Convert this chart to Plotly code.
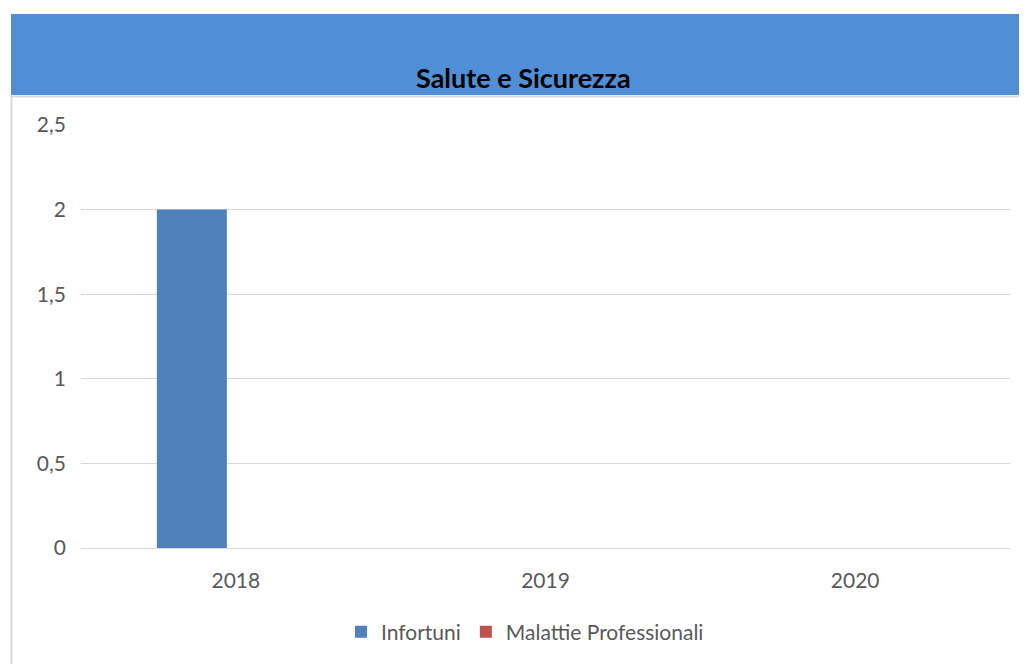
import plotly.graph_objects as go

years      = ["2018", "2019", "2020"]
infortuni  = [2, 0, 0]
malattie   = [0, 0, 0]
y_ticks    = [0, 0.5, 1, 1.5, 2, 2.5]
y_labels   = ["0", "0,5", "1", "1,5", "2", "2,5"]

FONT = "Lato"
OFF = 8                                  # page body margin
W, H = 1027 - OFF, 664 - OFF
L, R, T, B = 81, 1010, 125, 548          # plot area, page px

def px(x):  return (x - L) / (R - L)
def py(y):  return (B - y) / (B - T)

fig = go.Figure()
fig.add_trace(go.Bar(x=years, y=infortuni, name="Infortuni",
                     width=0.226, offset=-0.255,
                     marker=dict(color="#4F81BD", line=dict(width=0))))
fig.add_trace(go.Bar(x=years, y=malattie, name="Malattie Professionali",
                     width=0.226, offset=-0.029,
                     marker=dict(color="#C0504D", line=dict(width=0))))

# header band + frame
fig.add_shape(type="rect", xref="paper", yref="paper",
              x0=px(11), x1=px(1030), y0=py(95), y1=py(14),
              fillcolor="#508ED5", line=dict(width=0), layer="below")
fig.add_shape(type="line", xref="paper", yref="paper",
              x0=px(11), x1=px(1030), y0=py(96.5), y1=py(96.5),
              line=dict(color="#D9D9D9", width=2))
fig.add_shape(type="line", xref="paper", yref="paper",
              x0=px(11.5), x1=px(11.5), y0=py(96), y1=py(670),
              line=dict(color="#D9D9D9", width=2))

fig.add_annotation(text="<b>Salute e Sicurezza</b>", xref="paper", yref="paper",
                   x=px(523), y=py(78), xanchor="center", yanchor="middle",
                   showarrow=False,
                   font=dict(family=FONT, size=27, color="black"))

fig.update_layout(
    width=W, height=H, barmode="overlay",
    plot_bgcolor="white", paper_bgcolor="white",
    margin=dict(l=L - OFF, r=W - (R - OFF), t=T - OFF, b=H - (B - OFF), pad=0),
    font=dict(family=FONT, size=21, color="#595959"),
    showlegend=True,
    legend=dict(orientation="h", x=px(525), xanchor="center", y=py(632), yanchor="middle",
                font=dict(family=FONT, size=21, color="#595959"),
                itemwidth=30, traceorder="normal"),
)
fig.update_yaxes(range=[0, 2.5], tickvals=y_ticks, ticktext=y_labels,
                 showgrid=True, gridcolor="#D9D9D9", gridwidth=1,
                 zeroline=False, showline=False, ticks="", ticklabelstandoff=14,
                 tickfont=dict(family=FONT, size=21, color="#595959"))
fig.update_xaxes(showgrid=False, showline=True, linecolor="#D9D9D9", linewidth=1,
                 ticks="", ticklabelstandoff=14,
                 tickfont=dict(family=FONT, size=21, color="#595959"))

fig.write_html("out.html")
